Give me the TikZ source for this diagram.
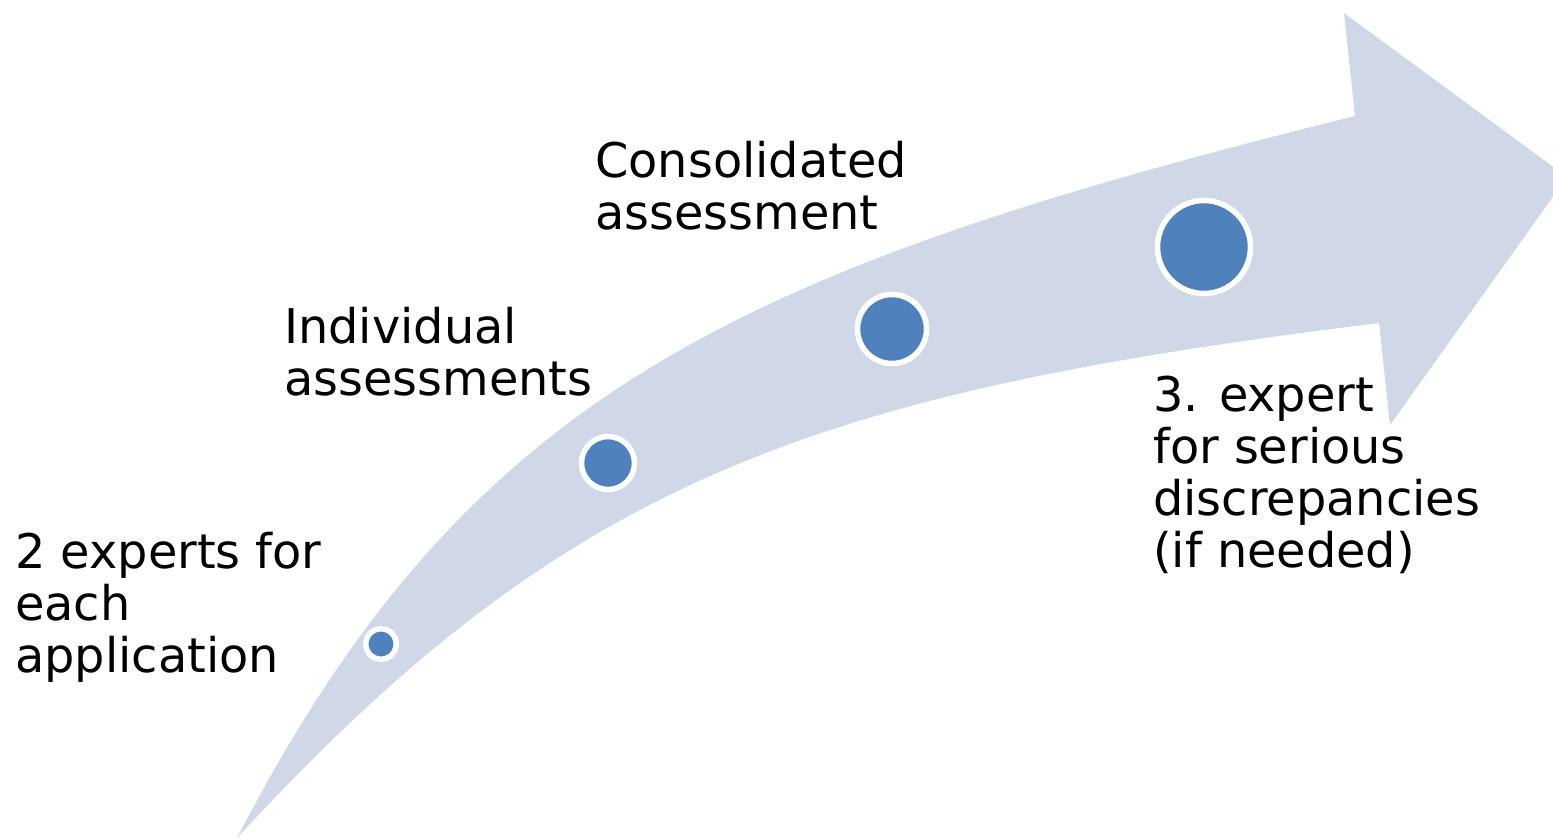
\documentclass[tikz,border=0pt]{standalone}
\usepackage{fontspec}
\setmainfont{DejaVu Sans}
\definecolor{arrowfill}{HTML}{D0D8E8}
\definecolor{dotblue}{HTML}{4F81BD}
\begin{document}
\begin{tikzpicture}[x=1pt,y=-1pt,
  dot/.style={circle, fill=dotblue, draw=white, line width=5.5pt, inner sep=0pt},
  lbl/.style={anchor=base west, inner sep=0pt, align=left, text=black,
    font=\fontsize{47.8}{52}\selectfont}]
\useasboundingbox (0,0) rectangle (1553,839);
\clip (0,0) rectangle (1553,839);
\fill[arrowfill] (237,838) .. controls (467,394) and (734,270) .. (1355,116)
  -- (1344,13) -- (1567,177) -- (1390,425) -- (1379,323)
  .. controls (814,393) and (569,477) .. (237,838) -- cycle;
\node[dot, minimum size=30.4pt] (c1) at (381,644) {};
\node[dot, minimum size=53pt] (c2) at (608,463) {};
\node[dot, minimum size=69pt] (c3) at (892,329) {};
\node[dot, minimum size=93pt] (c4) at (1204,247) {};
\node[lbl] (t1) at (15,672) {2 experts for\\each\\application};
\node[lbl] (t2) at (284,395) {Individual\\assessments};
\node[lbl] (t3) at (595,229) {Consolidated\\assessment};
\node[lbl] (t4) at (1153,567) {3. expert\\for serious\\discrepancies\\(if needed)};
\end{tikzpicture}
\end{document}
